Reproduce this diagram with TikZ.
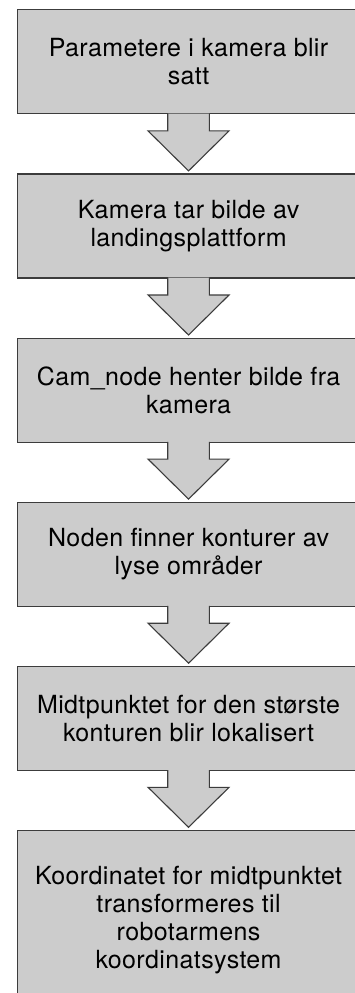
\documentclass[tikz,border=0pt]{standalone}
\usepackage{fontspec}
\setmainfont[LetterSpace=1.5]{TeX Gyre Heros}
\usepackage{tikz}
\usetikzlibrary{positioning,calc}
\definecolor{boksgraa}{RGB}{204,204,204}
\definecolor{kant}{RGB}{60,60,60}

\begin{document}
\begin{tikzpicture}[x=1pt,y=1pt,
  boks/.style={draw=kant,line width=1.1pt,fill=boksgraa,minimum width=342.6pt,
    minimum height=104pt,align=center,inner sep=0pt,
    font=\fontsize{25}{28}\selectfont},
  pil/.style={draw=kant,line width=1.1pt,fill=boksgraa,line join=miter},
  node distance=59pt]
\useasboundingbox (0,0) rectangle (355,-993);
\fill[white] (0,0) rectangle (355,-993);
\node [boks,anchor=north west] (b1) at (16.7,-9.3) {Parametere i kamera blir\\satt};
\node [boks,below=of b1] (b2) {Kamera tar bilde av\\landingsplattform};
\node [boks,below=of b2] (b3) {Cam\_node henter bilde fra\\kamera};
\node [boks,below=of b3] (b4) {Noden finner konturer av\\lyse områder};
\node [boks,below=of b4] (b5) {Midtpunktet for den største\\konturen blir lokalisert};
\node [boks,below=of b5,minimum height=180pt] (b6) {Koordinatet for midtpunktet\\transformeres til\\robotarmens\\koordinatsystem};
\foreach \a/\b in {b1/b2,b2/b3,b3/b4,b4/b5,b5/b6}
  \draw [pil] ($(\a.south)+(-20.8,0.8)$) -- ($(\a.south)+(-20.8,-16.5)$)
    -- ($(\a.south)+(-40.5,-16.5)$) -- ($(\b.north)+(0,2.5)$)
    -- ($(\a.south)+(40.5,-16.5)$) -- ($(\a.south)+(20.8,-16.5)$)
    -- ($(\a.south)+(20.8,0.8)$);
\end{tikzpicture}
\end{document}
